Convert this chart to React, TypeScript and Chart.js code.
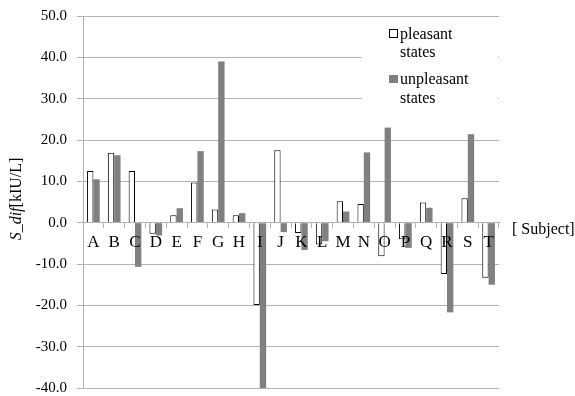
import React, { useEffect, useRef } from "react";
import { Chart, registerables } from "chart.js";

Chart.register(...registerables);

const categories = ["A", "B", "C", "D", "E", "F", "G", "H", "I", "J", "K", "L", "M", "N", "O", "P", "Q", "R", "S", "T"];
const pleasant = [12.5, 16.9, 12.5, -2.7, 1.8, 9.7, 3.2, 1.8, -19.9, 17.5, -2.5, -5.3, 5.2, 4.5, -8.1, -4.0, 4.9, -12.4, 5.9, -13.3];
const unpleasant = [10.5, 16.3, -10.7, -3.1, 3.5, 17.3, 39.0, 2.3, -40.0, -2.3, -6.6, -4.5, 2.7, 17.0, 23.0, -6.1, 3.6, -21.7, 21.4, -15.0];
const seriesNames = [["pleasant", "states"], ["unpleasant", "states"]];
const yMin = -40;
const yMax = 50;
const yStep = 10;
const yTitleItalic = "S_dif";
const yTitleRoman = "[kIU/L]";
const xTitle = "[ Subject]";

const FONT = "Liberation Serif";
const GRID = "#b4b4b4";
const BAR_GRAY = "#808080";

const overlayPlugin = {
  id: "overlay",
  afterDraw(chart: any) {
    const ctx = chart.ctx as CanvasRenderingContext2D;
    const area = chart.chartArea;
    const yScale = chart.scales.y;
    ctx.save();
    const lx = 362, ly = 19, lw = 136, lh = 92;
    ctx.fillStyle = "#ffffff";
    ctx.fillRect(lx, ly, lw, lh);
    ctx.font = `16px "${FONT}"`;
    ctx.textBaseline = "alphabetic";
    ctx.textAlign = "left";
    ctx.fillStyle = "#ffffff";
    ctx.fillRect(389.5, 29.5, 8, 8);
    ctx.strokeStyle = "#000000";
    ctx.lineWidth = 1;
    ctx.strokeRect(389.5, 29.5, 8, 8);
    ctx.fillStyle = "#000000";
    ctx.fillText(seriesNames[0][0], 400, 39);
    ctx.fillText(seriesNames[0][1], 400, 57);
    ctx.fillStyle = BAR_GRAY;
    ctx.fillRect(389, 75, 9, 8);
    ctx.fillStyle = "#000000";
    ctx.fillText(seriesNames[1][0], 400, 84);
    ctx.fillText(seriesNames[1][1], 400, 103);
    const zeroY = yScale.getPixelForValue(0);
    ctx.fillText(xTitle, 512, zeroY + 11);
    const cy = (area.top + area.bottom) / 2 - 3;
    ctx.translate(21, cy);
    ctx.rotate(-Math.PI / 2);
    ctx.font = `italic 16px "${FONT}"`;
    const w1 = ctx.measureText(yTitleItalic).width;
    ctx.font = `16px "${FONT}"`;
    const w2 = ctx.measureText(yTitleRoman).width;
    const start = -(w1 + w2) / 2;
    ctx.font = `italic 16px "${FONT}"`;
    ctx.fillText(yTitleItalic, start, 0);
    ctx.font = `16px "${FONT}"`;
    ctx.fillText(yTitleRoman, start + w1, 0);
    ctx.restore();
  },
};

export default function App() {
  const ref = useRef<HTMLCanvasElement>(null);
  useEffect(() => {
    if (!ref.current) return;
    const chart = new Chart(ref.current, {
      type: "bar",
      data: {
        labels: categories,
        datasets: [
          {
            label: "pleasant states",
            data: pleasant,
            backgroundColor: "#ffffff",
            borderColor: "#000000",
            borderWidth: 1,
            categoryPercentage: 0.61,
            barPercentage: 1,
          },
          {
            label: "unpleasant states",
            data: unpleasant,
            backgroundColor: BAR_GRAY,
            borderWidth: 0,
            categoryPercentage: 0.61,
            barPercentage: 1,
          },
        ],
      },
      options: {
        responsive: true,
        maintainAspectRatio: false,
        animation: false,
        layout: { padding: { top: 16, right: 76, bottom: 8, left: 0 } },
        plugins: {
          legend: { display: false },
          tooltip: { enabled: false },
          title: { display: false },
        },
        scales: {
          x: {
            position: { y: 0 },
            afterFit(scale: any) {
              scale.height = 0;
              scale.paddingLeft = 0;
              scale.paddingRight = 0;
            },
            grid: {
              display: true,
              drawOnChartArea: false,
              drawTicks: true,
              tickLength: 5,
              color: GRID,
              offset: true,
              z: 1,
            },
            border: { display: true, color: GRID, z: 1 },
            ticks: {
              color: "#000000",
              font: { family: FONT, size: 17 },
              padding: 5,
              maxRotation: 0,
              autoSkip: false,
              z: 2,
            },
          },
          y: {
            min: yMin,
            max: yMax,
            afterFit(scale: any) {
              scale.width = 83;
              scale.paddingTop = 0;
              scale.paddingBottom = 0;
            },
            grid: {
              color: GRID,
              tickLength: 6,
            },
            border: { display: true, color: GRID },
            ticks: {
              stepSize: yStep,
              color: "#000000",
              font: { family: FONT, size: 15 },
              padding: 10,
              callback: (v: any) => Number(v).toFixed(1),
            },
          },
        },
      },
      plugins: [overlayPlugin],
    });
    return () => chart.destroy();
  }, []);
  return (
    <div style={{ position: "absolute", left: 0, top: 0, width: 575, height: 396, background: "#ffffff" }}>
      <canvas ref={ref} />
    </div>
  );
}
